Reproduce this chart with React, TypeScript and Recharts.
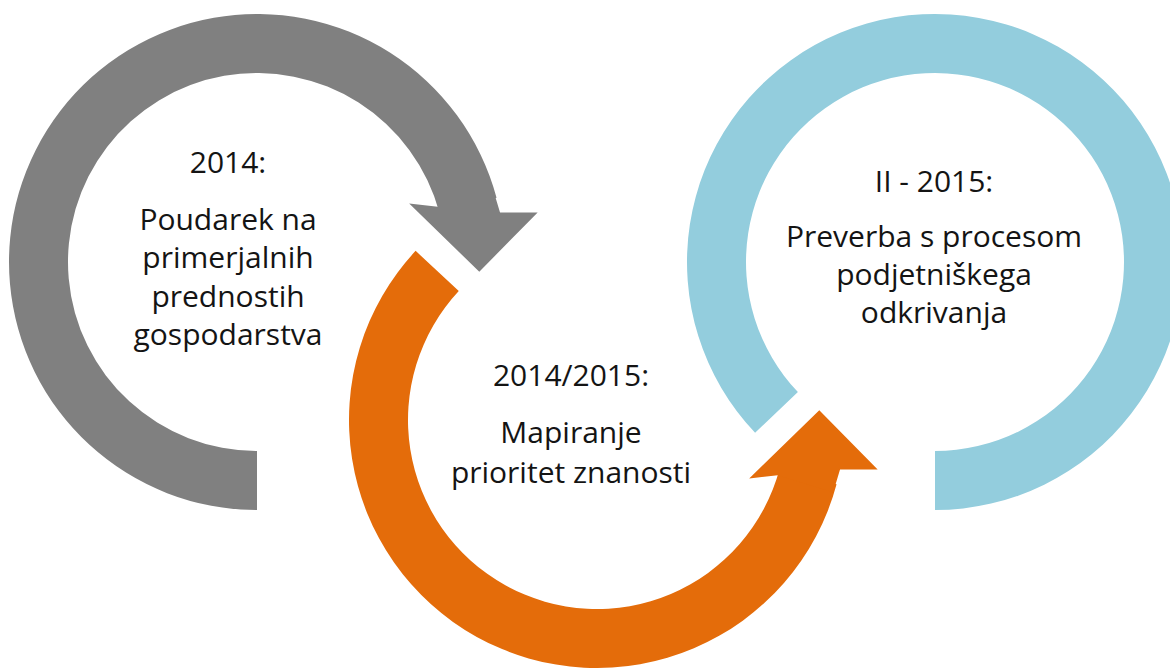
import React from "react";
import { Pie, PieChart } from "recharts";

// phase headings and the text inside each ring
const phases = ["2014:", "2014/2015:", "II - 2015:"];
const phaseValues = [1, 1, 1];
const phaseLines = [
  ["Poudarek na", "primerjalnih", "prednostih", "gospodarstva"],
  ["Mapiranje", "prioritet znanosti"],
  ["Preverba s procesom", "podjetniškega", "odkrivanja"]
];

// ring layout (pixels / degrees)
const rings = [
  { cx: 257, cy: 262, start: 270, end: 15, fill: "#808080", arrow: true, tx: -29, ty: [-89, -32, 6, 45, 83] },
  { cx: 597, cy: 420, start: 137, end: 345, fill: "#E46C0A", arrow: true, tx: -26, ty: [-34, 23, 63] },
  { cx: 935, cy: 262, start: 223.5, end: -90, fill: "#93CDDD", arrow: false, tx: -1, ty: [-70, -15, 23, 61] }
];

const INNER = 189;
const OUTER = 248;
const RAD = Math.PI / 180;

const polar = (cx: number, cy: number, r: number, a: number) => [
  cx + r * Math.cos(-a * RAD),
  cy + r * Math.sin(-a * RAD)
];

const ringLabel = (i: number) => (props: any) => {
  const ring = rings[i];
  const { cx, cy, innerRadius, outerRadius, startAngle, endAngle } = props;
  const d = Math.sign(endAngle - startAngle);
  const mid = (innerRadius + outerRadius) / 2;
  let arrow = null;
  if (ring.arrow) {
    // arrowhead overlaps the end of the arc a little so no seam shows
    const pts = [
      polar(cx, cy, innerRadius, endAngle - d * 2),
      polar(cx, cy, innerRadius - 26, endAngle - d * 6),
      polar(cx, cy, mid + 4, endAngle + d * 17.5),
      polar(cx, cy, outerRadius + 37, endAngle + d * 5),
      polar(cx, cy, outerRadius, endAngle + d * 3.5),
      polar(cx, cy, outerRadius - 1, endAngle - d * 2)
    ];
    arrow = <path d={"M" + pts.map((p) => p.join(",")).join("L") + "Z"} fill={ring.fill} />;
  }
  const lines = [phases[i], ...phaseLines[i]];
  return (
    <g>
      {arrow}
      {lines.map((line, k) => (
        <text
          key={k}
          x={cx + ring.tx}
          y={cy + ring.ty[k]}
          textAnchor="middle"
          fontFamily="'Open Sans', Lato, sans-serif"
          fontSize={30}
          fill="#141414"
        >
          {line}
        </text>
      ))}
    </g>
  );
};

export default function App() {
  return (
    <div style={{ width: 1170, height: 668, background: "#fff" }}>
      <style>{`body{margin:0;background:#fff}`}</style>
      <PieChart width={1170} height={668} margin={{ top: 0, right: 0, bottom: 0, left: 0 }}>
        {rings.map((ring, i) => (
          <Pie
            key={phases[i]}
            data={[{ name: phases[i], value: phaseValues[i] }]}
            dataKey="value"
            cx={ring.cx}
            cy={ring.cy}
            innerRadius={INNER}
            outerRadius={OUTER}
            startAngle={ring.start}
            endAngle={ring.end}
            fill={ring.fill}
            stroke="none"
            label={ringLabel(i)}
            labelLine={false}
            isAnimationActive={false}
          />
        ))}
      </PieChart>
    </div>
  );
}
